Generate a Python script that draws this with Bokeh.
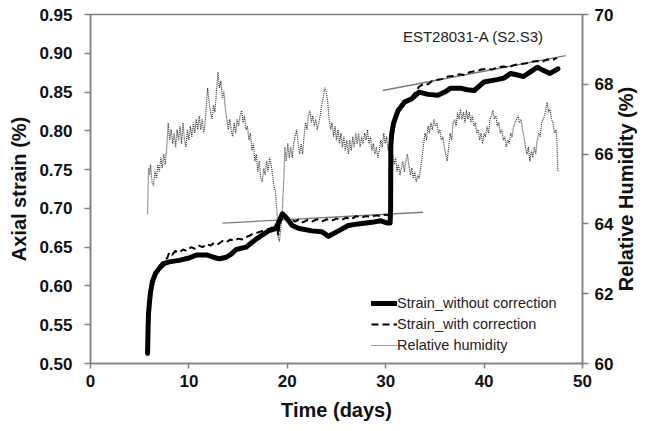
import math
from bokeh.plotting import figure
from bokeh.models import Range1d, LinearAxis, FixedTicker, NumeralTickFormatter, Legend, LegendItem, Label
from bokeh.embed import file_html
from bokeh.resources import INLINE

# ---------------- data ----------------
t_nocorr = [5.8, 5.85, 5.9, 6.0, 6.1, 6.3, 6.6, 7.0, 7.5, 8.0, 9.0, 10.0, 10.8, 11.8, 12.5, 13.1,
            13.8, 14.3, 14.8, 15.8, 16.8, 17.5, 18.1, 18.8, 19.2, 19.5, 19.9, 20.5, 21.2, 22.5,
            23.5, 24.2, 25.2, 26.2, 27.2, 28.6, 29.5, 30.2, 30.45, 30.5, 30.52, 30.6, 30.8, 31.25,
            31.9, 32.6, 33.4, 34.3, 35.3, 36.0, 36.6, 37.6, 38.3, 39.0, 40.0, 41.3, 42.0, 42.7,
            43.4, 44.0, 44.7, 45.4, 46.0, 46.7, 47.5]
strain_nocorr = [0.513, 0.545, 0.565, 0.580, 0.592, 0.606, 0.616, 0.623, 0.629, 0.631, 0.633, 0.636,
                 0.640, 0.640, 0.637, 0.635, 0.637, 0.641, 0.647, 0.650, 0.660, 0.666, 0.671, 0.674,
                 0.684, 0.693, 0.688, 0.678, 0.674, 0.671, 0.670, 0.664, 0.671, 0.678, 0.680, 0.682,
                 0.684, 0.681, 0.681, 0.700, 0.780, 0.795, 0.810, 0.826, 0.837, 0.841, 0.850, 0.847,
                 0.846, 0.850, 0.855, 0.855, 0.853, 0.852, 0.863, 0.866, 0.868, 0.874, 0.872, 0.870,
                 0.876, 0.882, 0.878, 0.874, 0.880]

t_corr = [5.8, 5.85, 5.9, 6.0, 6.1, 6.3, 6.6, 7.0, 7.5, 7.8, 8.0, 8.3, 8.6, 9.0, 9.4, 9.8, 10.2,
          10.6, 11.0, 11.4, 11.8, 12.2, 12.6, 13.0, 13.4, 13.8, 14.2, 14.6, 15.0, 15.4, 15.8, 16.2,
          16.6, 17.0, 17.5, 18.0, 18.4, 18.8, 19.0, 19.1, 19.2, 19.4, 19.6, 19.8, 20.1, 20.5, 20.8,
          21.2, 21.6, 22.0, 22.5, 23.0, 23.5, 24.0, 24.5, 25.0, 25.5, 26.0, 26.5, 27.0, 27.5, 28.0,
          28.5, 29.0, 29.5, 30.0, 30.45, 30.5, 30.52, 30.6, 30.8, 31.25, 31.9, 32.6, 33.0, 33.4,
          33.9, 34.3, 34.7, 35.3, 35.8, 36.3, 37.0, 37.5, 38.0, 38.6, 39.2, 39.7, 40.3, 40.8, 41.4,
          42.0, 42.5, 43.1, 43.7, 44.3, 44.8, 45.4, 45.9, 46.4, 46.9, 47.4]
strain_corr = [0.513, 0.545, 0.565, 0.580, 0.593, 0.607, 0.618, 0.626, 0.633, 0.636, 0.643, 0.640,
               0.645, 0.643, 0.647, 0.645, 0.650, 0.648, 0.652, 0.650, 0.654, 0.652, 0.656, 0.654,
               0.658, 0.656, 0.660, 0.658, 0.661, 0.660, 0.663, 0.665, 0.668, 0.669, 0.671, 0.673,
               0.675, 0.676, 0.672, 0.665, 0.680, 0.690, 0.693, 0.688, 0.683, 0.685, 0.683, 0.686,
               0.682, 0.685, 0.683, 0.686, 0.683, 0.686, 0.684, 0.687, 0.685, 0.688, 0.686, 0.690,
               0.688, 0.690, 0.689, 0.691, 0.690, 0.692, 0.690, 0.720, 0.780, 0.795, 0.810, 0.826,
               0.837, 0.843, 0.850, 0.857, 0.861, 0.860, 0.864, 0.866, 0.867, 0.870, 0.871, 0.873,
               0.872, 0.876, 0.877, 0.879, 0.880, 0.879, 0.882, 0.883, 0.882, 0.885, 0.886, 0.887,
               0.889, 0.890, 0.889, 0.892, 0.891, 0.894]

t_rh = [5.8, 5.85, 5.9, 6.0, 6.1, 6.25, 6.4, 6.55, 6.7, 6.85, 7.0, 7.15, 7.3, 7.45, 7.6, 7.75, 7.9,
        8.05, 8.2, 8.35, 8.5, 8.65, 8.8, 8.95, 9.1, 9.25, 9.4, 9.55, 9.7, 9.85, 10.0, 10.15, 10.3,
        10.45, 10.6, 10.75, 10.9, 11.05, 11.2, 11.35, 11.5, 11.65, 11.8, 11.9, 12.05, 12.2, 12.35,
        12.5, 12.65, 12.8, 12.95, 13.1, 13.25, 13.4, 13.55, 13.7, 13.85, 14.0, 14.15, 14.3, 14.45,
        14.6, 14.75, 14.9, 15.05, 15.2, 15.35, 15.5, 15.65, 15.8, 15.95, 16.1, 16.25, 16.4, 16.55,
        16.7, 16.85, 17.0, 17.15, 17.3, 17.45, 17.6, 17.75, 17.9, 18.05, 18.2, 18.35, 18.5, 18.65,
        18.8, 18.95, 19.1, 19.2, 19.35, 19.5, 19.65, 19.75, 19.9, 20.05, 20.2, 20.35, 20.5, 20.65,
        20.8, 20.95, 21.1, 21.25, 21.4, 21.55, 21.7, 21.85, 22.0, 22.15, 22.3, 22.45, 22.6, 22.75,
        22.9, 23.05, 23.2, 23.35, 23.5, 23.65, 23.8, 23.95, 24.1, 24.25, 24.4, 24.55, 24.7, 24.85,
        25.0, 25.15, 25.3, 25.45, 25.6, 25.75, 25.9, 26.05, 26.2, 26.35, 26.5, 26.65, 26.8, 26.95,
        27.1, 27.25, 27.4, 27.55, 27.7, 27.85, 28.0, 28.15, 28.3, 28.45, 28.6, 28.75, 28.9, 29.05,
        29.2, 29.35, 29.5, 29.65, 29.8, 29.95, 30.1, 30.25, 30.4, 30.55, 30.7, 30.85, 31.0, 31.15,
        31.3, 31.45, 31.6, 31.75, 31.9, 32.05, 32.2, 32.35, 32.5, 32.65, 32.8, 32.95, 33.1, 33.25,
        33.4, 33.55, 33.7, 33.85, 34.0, 34.15, 34.3, 34.45, 34.6, 34.75, 34.9, 35.05, 35.2, 35.35,
        35.5, 35.65, 35.8, 35.95, 36.1, 36.25, 36.4, 36.55, 36.7, 36.85, 37.0, 37.15, 37.3, 37.45,
        37.6, 37.75, 37.9, 38.05, 38.2, 38.35, 38.5, 38.65, 38.8, 38.95, 39.1, 39.25, 39.4, 39.55,
        39.7, 39.85, 40.0, 40.15, 40.3, 40.45, 40.6, 40.75, 40.9, 41.05, 41.2, 41.35, 41.5, 41.65,
        41.8, 41.95, 42.1, 42.25, 42.4, 42.55, 42.7, 42.85, 43.0, 43.15, 43.3, 43.45, 43.6, 43.75,
        43.9, 44.05, 44.2, 44.35, 44.5, 44.65, 44.8, 44.95, 45.1, 45.25, 45.4, 45.55, 45.7, 45.85,
        46.0, 46.15, 46.3, 46.4, 46.55, 46.7, 46.85, 47.0, 47.15, 47.3, 47.4, 47.45, 47.5]
rh = [64.3, 65.0, 65.6, 65.4, 65.7, 65.2, 65.1, 65.5, 65.3, 65.7, 65.5, 65.9, 65.6, 66.0, 65.7, 66.2,
      66.9, 66.4, 66.7, 66.3, 66.6, 66.2, 66.7, 66.4, 66.8, 66.3, 66.9, 66.4, 66.2, 66.7, 66.4, 66.8,
      66.5, 66.9, 66.6, 67.0, 66.7, 67.1, 66.7, 67.0, 66.6, 66.9, 67.5, 67.9, 67.5, 67.2, 67.0, 67.4,
      67.2, 67.8, 68.35, 67.9, 68.1, 67.6, 67.8, 67.3, 67.0, 66.7, 67.0, 66.7, 66.5, 66.9, 66.6, 67.0,
      66.8, 67.1, 67.25, 66.9, 67.1, 66.7, 66.8, 66.4, 66.6, 66.1, 66.3, 65.8, 66.0, 65.5, 65.8, 65.3,
      65.2, 65.6, 65.4, 65.8, 65.5, 65.9, 65.7, 65.4, 65.1, 64.9, 64.3, 63.6, 63.5, 63.9, 64.4, 65.3,
      66.2, 65.8, 66.3, 65.9, 66.2, 65.9, 66.3, 66.5, 66.7, 66.3, 66.0, 66.3, 66.0, 66.5, 66.9, 66.7,
      67.1, 67.25, 66.9, 67.1, 66.8, 67.0, 66.7, 66.9, 67.1, 67.4, 67.6, 67.9, 67.8, 67.5, 67.0, 66.7,
      66.9, 66.5, 66.8, 66.4, 66.7, 66.3, 66.6, 66.2, 66.5, 66.1, 66.4, 66.0, 66.4, 66.1, 66.5, 66.2,
      66.6, 66.3, 66.6, 66.2, 66.5, 66.3, 66.6, 66.4, 66.7, 66.3, 66.5, 66.1, 66.3, 66.0, 66.2, 65.9,
      66.1, 66.4, 66.2, 66.6, 66.3, 66.5, 66.1, 66.3, 65.8, 66.0, 65.7, 65.9, 65.5, 65.7, 65.4, 65.6,
      65.8, 65.5, 65.8, 66.0, 65.7, 65.4, 65.6, 65.3, 65.5, 65.2, 65.4, 65.3, 65.6, 65.9, 66.3, 66.6,
      66.4, 66.8, 66.6, 66.9, 66.7, 67.0, 66.8, 66.9, 66.6, 66.7, 66.4, 66.5, 66.2, 66.0, 65.8, 66.2,
      66.6, 66.4, 66.9, 67.0, 66.8, 67.2, 67.0, 67.3, 67.0, 67.2, 66.9, 67.25, 67.0, 67.2, 66.9, 67.1,
      66.8, 66.9, 66.6, 66.7, 66.4, 66.6, 66.3, 66.6, 66.5, 66.8, 66.6, 67.0, 67.1, 67.25, 67.0, 67.1,
      66.8, 66.9, 66.6, 66.7, 66.4, 66.5, 66.2, 66.4, 66.3, 66.6, 66.5, 66.8, 66.9, 67.0, 67.1, 66.9,
      67.0, 66.7, 66.5, 66.2, 66.0, 66.2, 65.8, 66.1, 65.9, 66.2, 66.0, 66.4, 66.6, 66.5, 66.9, 67.0,
      67.1, 67.3, 67.5, 67.2, 67.3, 67.0, 66.9, 66.6, 66.7, 66.4, 65.9, 65.5]

trend1_t = [13.4, 33.8]
trend1_strain = [0.681, 0.695]
trend2_t = [29.7, 48.3]
trend2_strain = [0.852, 0.897]

x_ticks = [0, 10, 20, 30, 40, 50]
y_ticks = [0.50, 0.55, 0.60, 0.65, 0.70, 0.75, 0.80, 0.85, 0.90, 0.95]
rh_ticks = [60, 62, 64, 66, 68, 70]

label_nocorr = "Strain_without correction"
label_corr = "Strain_with correction"
label_rh = "Relative humidity"
title_text = "EST28031-A (S2.S3)"
right_label = "Relative Humidity (%)"

# ---------------- figure ----------------
FONT = "Liberation Sans"
AX = "#808080"

p = figure(width=651, height=431, output_backend="svg", toolbar_location=None,
           x_range=Range1d(0, 50), y_range=Range1d(0.50, 0.95),
           min_border_left=90, min_border_right=65, min_border_top=14, min_border_bottom=68)
p.extra_y_ranges = {"rh": Range1d(60, 70)}
p.grid.visible = False
p.outline_line_color = AX
p.outline_line_width = 1.5
p.background_fill_color = "white"
p.border_fill_color = "white"

def style_axis(ax, tick_out, standoff, label_standoff):
    ax.axis_line_color = AX
    ax.axis_line_width = 1.5
    ax.major_tick_line_color = AX
    ax.major_tick_line_width = 1.5
    ax.major_tick_out = tick_out
    ax.major_tick_in = 0
    ax.minor_tick_line_color = None
    ax.major_label_text_font = FONT
    ax.major_label_text_font_style = "bold"
    ax.major_label_text_font_size = "17px"
    ax.major_label_text_color = "#111111"
    ax.major_label_standoff = standoff
    ax.axis_label_text_font = FONT
    ax.axis_label_text_font_style = "bold"
    ax.axis_label_text_font_size = "20px"
    ax.axis_label_text_color = "#111111"
    ax.axis_label_standoff = label_standoff

xa = p.xaxis[0]
xa.ticker = FixedTicker(ticks=x_ticks)
xa.axis_label = "Time (days)"
style_axis(xa, 5, 6, 9)

ya = p.yaxis[0]
ya.ticker = FixedTicker(ticks=y_ticks)
ya.formatter = NumeralTickFormatter(format="0.00")
ya.axis_label = "Axial strain (%)"
style_axis(ya, 6, 12, 6)

# right axis: title reads bottom-to-top as in the reference; it is anchored at the
# axis start, so it is pushed up to the middle with leading no-break spaces
ra = LinearAxis(y_range_name="rh", ticker=FixedTicker(ticks=rh_ticks),
                axis_label="\u00a0" * 13 + right_label)
style_axis(ra, 6, 6, 10)
ra.axis_label_orientation = math.pi / 2
ra.axis_label_align = "start"
p.add_layout(ra, "right")

# trend lines
p.line(trend1_t, trend1_strain, line_color="#7a7a7a", line_width=1.3)
p.line(trend2_t, trend2_strain, line_color="#7a7a7a", line_width=1.3)

r_rh = p.line(t_rh, rh, y_range_name="rh", line_color="#3a3a3a", line_width=1.2, line_dash="1 1")
r_corr = p.line(t_corr, strain_corr, line_color="black", line_width=2, line_dash="7 4")
r_nc = p.line(t_nocorr, strain_nocorr, line_color="black", line_width=5, line_join="round", line_cap="round")

legend = Legend(items=[LegendItem(label=label_nocorr, renderers=[r_nc]),
                       LegendItem(label=label_corr, renderers=[r_corr]),
                       LegendItem(label=label_rh, renderers=[r_rh])],
                location=(281, 9), padding=0, margin=0, spacing=3,
                glyph_width=26, glyph_height=18, label_height=18, label_standoff=0,
                border_line_color=None, background_fill_alpha=0,
                label_text_font=FONT, label_text_font_size="14.5px", label_text_color="#222222")
p.add_layout(legend, "center")

p.add_layout(Label(x=31.75, y=0.9216, text=title_text, text_font=FONT, text_font_size="15px",
                   text_color="#222222", text_baseline="alphabetic"))

open("out.html", "w").write(file_html(p, INLINE))
